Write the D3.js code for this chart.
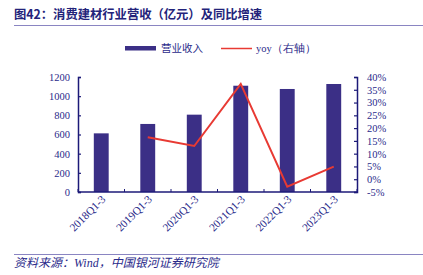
<!DOCTYPE html>
<html><head><meta charset="utf-8">
<script src="https://cdn.jsdelivr.net/npm/d3@7"></script>
<style>body{margin:0;background:#fff}svg{display:block}</style>
</head><body>
<svg id="c" width="423" height="275"></svg>
<script>
const categories = ["2018Q1-3","2019Q1-3","2020Q1-3","2021Q1-3","2022Q1-3","2023Q1-3"];
const revenue = [612, 710, 807, 1109, 1075, 1127];
const yoy = [null, 16.4, 13.0, 37.3, -2.9, 4.9];
const leftTicks = [0,200,400,600,800,1000,1200];
const rightTicks = [-5,0,5,10,15,20,25,30,35,40];

const svg = d3.select("#c");
const navy = "#1c1a78", textC = "#2a2a8a", barC = "#3b2f86", red = "#e83a33", rule = "#8a85c2";
const serif = "'Liberation Serif','DejaVu Serif',serif";
const m = {l:78, r:357, t:77, b:192};

// title
svg.append("text").attr("x",14).attr("y",19).attr("font-family","'Noto Sans CJK SC',sans-serif")
  .attr("font-weight","bold").attr("font-size",12.3).attr("fill","#23237a")
  .text("图42：消费建材行业营收（亿元）及同比增速");
svg.append("line").attr("x1",14).attr("x2",423).attr("y1",25.5).attr("y2",25.5).attr("stroke",rule).attr("stroke-width",1);

const x = d3.scaleBand().domain(categories).range([m.l,m.r]).paddingInner(0.68).paddingOuter(0.34);
const y = d3.scaleLinear().domain([0,1200]).range([m.b,m.t]);
const y2 = d3.scaleLinear().domain([-5,40]).range([m.b,m.t]);

// bars
svg.append("g").selectAll("rect").data(revenue).join("rect")
  .attr("x",(d,i)=>x(categories[i])).attr("width",x.bandwidth())
  .attr("y",d=>y(d)).attr("height",d=>y(0)-y(d)).attr("fill",barC);

// line
const pts = yoy.map((v,i)=>({v,c:categories[i]})).filter(d=>d.v!==null);
svg.append("path").datum(pts).attr("fill","none").attr("stroke",red).attr("stroke-width",2)
  .attr("d",d3.line().x(d=>x(d.c)+x.bandwidth()/2).y(d=>y2(d.v)));

// left axis
const la = svg.append("g").attr("transform",`translate(${m.l},0)`)
  .call(d3.axisLeft(y).tickValues(leftTicks).tickSize(-3).tickPadding(8).tickFormat(d3.format("d")));
// right axis
const ra = svg.append("g").attr("transform",`translate(${m.r},0)`)
  .call(d3.axisRight(y2).tickValues(rightTicks).tickSize(-3).tickPadding(8).tickFormat(d=>d+"%"));
// bottom axis
const step = x.step();
const xt = d3.range(0,categories.length+1).map(i=>m.l+i*step);
svg.append("line").attr("x1",m.l).attr("x2",m.r).attr("y1",m.b).attr("y2",m.b).attr("stroke",navy).attr("stroke-width",1.5);
svg.append("g").selectAll("line").data(xt).join("line")
  .attr("x1",d=>d).attr("x2",d=>d).attr("y1",m.b).attr("y2",m.b-3).attr("stroke",navy).attr("stroke-width",1);

[la,ra].forEach(a=>{
  a.select(".domain").attr("stroke",navy).attr("stroke-width",1.5);
  a.selectAll(".tick line").attr("stroke",navy).attr("stroke-width",1.2);
  a.selectAll(".tick text").attr("fill",textC).attr("font-family",serif).attr("font-size",10.5);
});
ra.selectAll(".tick text").attr("x",10);

// x labels
svg.append("g").selectAll("text").data(categories).join("text")
  .attr("transform",d=>`translate(${x(d)+x.bandwidth()/2+5},${m.b+8}) rotate(-45)`)
  .attr("text-anchor","end").attr("font-family",serif).attr("font-size",11.2).attr("fill",textC)
  .text(d=>d);

// legend
svg.append("rect").attr("x",125).attr("y",46).attr("width",31).attr("height",4.5).attr("fill",barC);
svg.append("text").attr("x",161).attr("y",52).attr("font-family","'Noto Sans CJK SC',sans-serif").attr("font-size",10.5).attr("fill",textC).text("营业收入");
svg.append("line").attr("x1",221).attr("x2",252).attr("y1",48.5).attr("y2",48.5).attr("stroke",red).attr("stroke-width",1.5);
svg.append("text").attr("x",256).attr("y",52).attr("font-family",serif).attr("font-size",10.5).attr("fill",textC).text("yoy（右轴）");

// footer
svg.append("line").attr("x1",14).attr("x2",423).attr("y1",254.5).attr("y2",254.5).attr("stroke",rule).attr("stroke-width",1);
svg.append("text").attr("x",14).attr("y",267).attr("font-family","'Liberation Serif','Noto Sans CJK SC',serif").attr("font-style","italic")
  .attr("font-size",12).attr("fill",textC).text("资料来源：Wind，中国银河证券研究院");
</script>
</body></html>
